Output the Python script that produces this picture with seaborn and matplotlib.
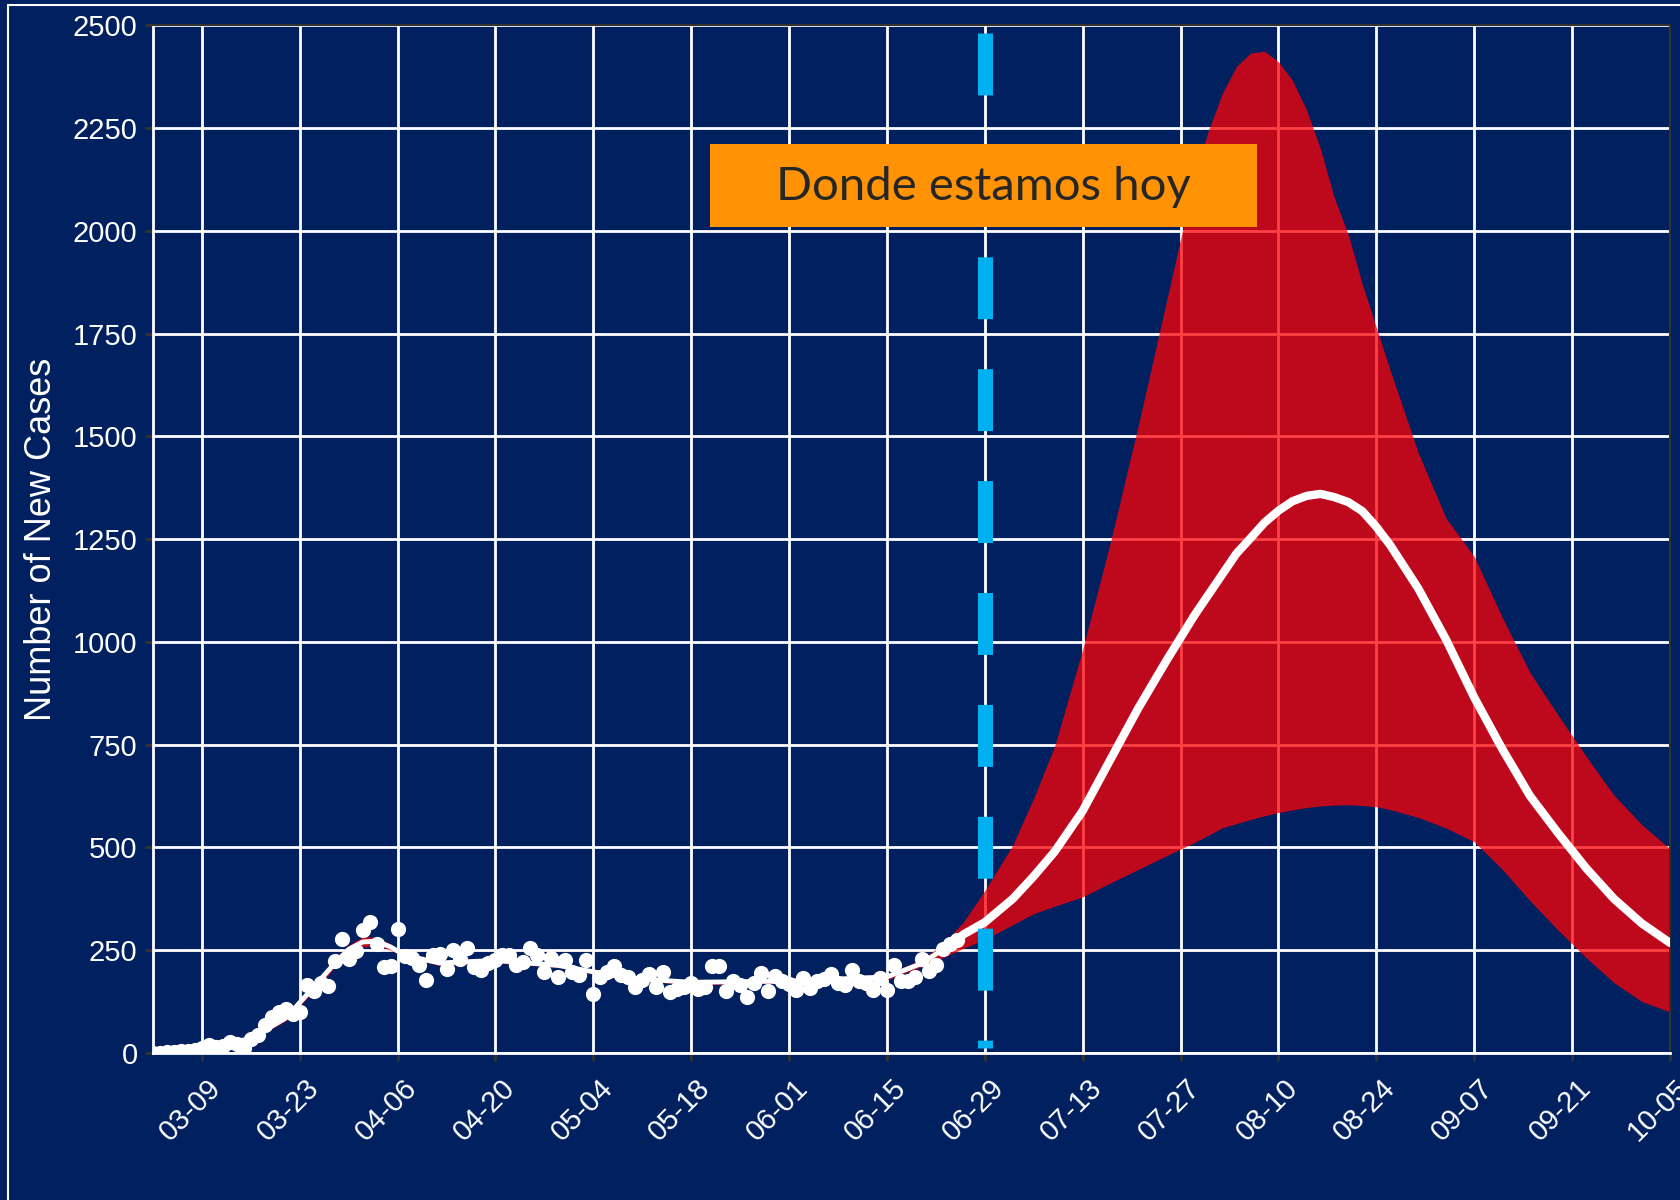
import numpy as np
import pandas as pd
import matplotlib
matplotlib.use("Agg")
import matplotlib.pyplot as plt
import matplotlib.dates as mdates
from matplotlib.patches import Rectangle
from matplotlib.lines import Line2D
from matplotlib.transforms import ScaledTranslation
import seaborn as sns

# ==== data ====
START = pd.Timestamp("2020-03-02")
END = pd.Timestamp("2020-10-05")
TODAY = pd.Timestamp("2020-06-29")

# observed daily new cases, one value per day from 03-02
observed_cases = [
    1, 1, 2, 3, 4, 6, 8, 12, 20, 14, 18, 26, 22, 12, 35, 43, 67, 88, 100, 108,
    96, 100, 166, 150, 170, 162, 224, 277, 228, 248, 298, 318, 265, 209, 211, 302,
    236, 230, 215, 177, 238, 240, 205, 251, 228, 255, 210, 201, 218, 225, 238, 238,
    214, 222, 255, 238, 197, 230, 185, 226, 197, 189, 226, 144, 185, 197, 211, 189,
    185, 160, 178, 193, 160, 197, 148, 156, 160, 170, 156, 160, 211, 211, 150, 174,
    165, 137, 170, 195, 150, 187, 174, 168, 154, 182, 158, 174, 180, 191, 170, 166,
    203, 174, 170, 154, 182, 154, 215, 174, 174, 185, 228, 199, 215, 252, 265, 276,
]

# model curve and band, days since 03-02
model_day = [0, 7, 14, 19, 23, 26, 28, 30, 32, 34, 36, 41, 49, 58, 68, 77, 91, 105,
             110, 113, 116, 119, 123, 126, 129, 133, 137, 141, 145, 149, 151, 153,
             155, 157, 159, 161, 163, 165, 167, 169, 171, 173, 175, 177, 181, 185,
             189, 193, 197, 201, 205, 209, 213, 217]
model_mean = [3, 12, 35, 85, 160, 218, 252, 270, 272, 258, 238, 219, 225, 213, 182, 172,
              175, 185, 218, 252, 289, 318, 375, 430, 490, 589, 715, 840, 955, 1065,
              1115, 1165, 1215, 1252, 1290, 1319, 1342, 1355, 1360, 1352, 1340, 1318,
              1280, 1235, 1130, 1005, 865, 740, 625, 535, 450, 375, 315, 268]
model_upper = [5, 16, 40, 92, 170, 228, 262, 283, 282, 265, 243, 225, 231, 218, 187, 178,
               180, 192, 228, 265, 320, 395, 506, 620, 747, 982, 1245, 1530, 1830, 2130,
               2245, 2335, 2400, 2432, 2437, 2411, 2366, 2295, 2200, 2080, 1990, 1870,
               1765, 1660, 1460, 1300, 1208, 1060, 925, 822, 722, 627, 555, 497]
model_lower = [0, 8, 30, 78, 150, 208, 242, 258, 262, 250, 233, 213, 219, 208, 177, 166,
               170, 178, 210, 232, 255, 276, 312, 339, 357, 380, 414, 447, 480, 512,
               530, 548, 558, 568, 577, 585, 591, 597, 601, 603, 604, 602, 599, 592,
               573, 547, 514, 447, 370, 299, 232, 171, 125, 100]

y_ticks = [0, 250, 500, 750, 1000, 1250, 1500, 1750, 2000, 2250, 2500]
label_text = "Donde estamos hoy"

# ==== styling ====
BG = "#002060"
sns.set_theme(style="darkgrid", rc={
    "axes.facecolor": BG,
    "figure.facecolor": BG,
    "grid.color": "white",
    "grid.linewidth": 2.0,
})
plt.rcParams["font.family"] = ["Liberation Sans", "DejaVu Sans"]

obs = pd.DataFrame({
    "date": pd.date_range(START, periods=len(observed_cases), freq="D"),
    "cases": observed_cases,
})
model = pd.DataFrame({
    "day": model_day,
    "date": START + pd.to_timedelta(model_day, unit="D"),
    "mean": model_mean,
    "upper": model_upper,
    "lower": model_lower,
})
fit_part = model[model["day"] <= 119]
proj_part = model[model["day"] >= 113]

fig = plt.figure(figsize=(16.8, 12), dpi=100)
ax = fig.add_axes([0.091, 0.1225, 0.903, 0.8565])
ax.set_axisbelow(True)

# uncertainty band
ax.fill_between(model["date"], model["lower"], model["upper"],
                color="#FF0005", alpha=0.75, linewidth=0, zorder=2)

# observed points
sns.scatterplot(data=obs, x="date", y="cases", ax=ax, color="white",
                s=120, linewidth=0, zorder=4, legend=False)

# model mean: thinner over the observed period, heavy for the projection
sns.lineplot(data=fit_part, x="date", y="mean", ax=ax, color="white",
             linewidth=3.5, zorder=5, legend=False)
sns.lineplot(data=proj_part, x="date", y="mean", ax=ax, color="white",
             linewidth=6, zorder=5, legend=False)

# "today" dashed line
ax.plot([TODAY, TODAY], [2482, 13], color="#00B0F0", linewidth=10.8,
        dashes=(4.13, 3.33), dash_capstyle="butt", zorder=6)

# label box
ax.add_patch(Rectangle((0.367, 0.8035), 0.361, 0.0805, transform=ax.transAxes,
                       facecolor="#FF9305", edgecolor="none", zorder=7))
ax.text(0.5475, 0.843, label_text, transform=ax.transAxes, ha="center", va="center",
        fontsize=34, color="#262626", family=["Lato", "DejaVu Sans"], zorder=8)

# axes
ax.set_xlim(START, END)
ax.set_ylim(0, 2500)
ax.set_yticks(y_ticks)
ax.set_xticks(pd.date_range("2020-03-09", END, freq="14D"))
ax.xaxis.set_major_formatter(mdates.DateFormatter("%m-%d"))
ax.grid(True, which="major", color="white", linewidth=2.0)

ax.tick_params(axis="both", which="major", labelsize=21, labelcolor="white",
               color="#333333", length=6, width=2, bottom=True, left=True)
ax.tick_params(axis="y", pad=5)
ax.tick_params(axis="x", pad=16)
shift = ScaledTranslation(0.15, 0.0, fig.dpi_scale_trans)
for tick in ax.xaxis.get_major_ticks():
    lbl = tick.label1
    lbl.set_rotation(45)
    lbl.set_ha("right")
    lbl.set_va("center")
    lbl.set_rotation_mode("anchor")
    lbl.set_transform(lbl.get_transform() + shift)

ax.set_xlabel("")
ax.set_ylabel("Number of New Cases", fontsize=26, color="white")
ax.yaxis.set_label_coords(-0.062, 0.5)

for side in ["top", "right"]:
    ax.spines[side].set_visible(True)
    ax.spines[side].set_color("#333333")
    ax.spines[side].set_linewidth(1.5)
for side in ["left", "bottom"]:
    ax.spines[side].set_visible(True)
    ax.spines[side].set_color("white")
    ax.spines[side].set_linewidth(2)

# thin slide frame
fig.add_artist(Line2D([0.005, 0.005], [0, 0.996], transform=fig.transFigure,
                      color="white", linewidth=1.5))
fig.add_artist(Line2D([0.005, 1.0], [0.996, 0.996], transform=fig.transFigure,
                      color="white", linewidth=1.5))

fig.savefig("out.png", dpi=100, facecolor=BG)
